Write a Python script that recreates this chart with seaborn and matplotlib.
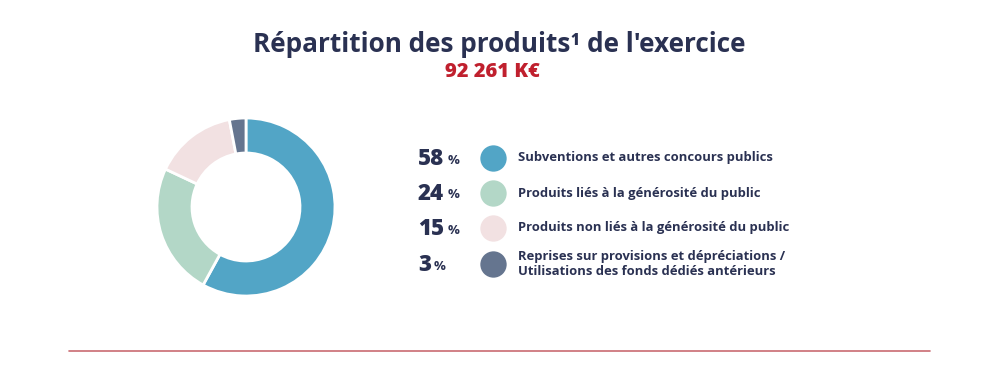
import matplotlib
matplotlib.use("Agg")
import matplotlib.pyplot as plt
import seaborn as sns

# --- données ---
labels = [
    "Subventions et autres concours publics",
    "Produits liés à la générosité du public",
    "Produits non liés à la générosité du public",
    "Reprises sur provisions et dépréciations /\nUtilisations des fonds dédiés antérieurs",
]
shares = [58, 24, 15, 3]
colors = ["#52A5C6", "#B3D7C7", "#F2E1E2", "#65758F"]

title = "Répartition des produits¹ de l'exercice"
total_label = "92 261 K€"

NAVY = "#2A3152"
RED = "#C0202E"

sns.set_theme(style="white")
plt.rcParams['font.family'] = ['Open Sans', 'DejaVu Sans']

W, H = 1000, 372
fig = plt.figure(figsize=(W / 100, H / 100), dpi=100)

# fond pour le texte, en pixels
ax_bg = fig.add_axes([0, 0, 1, 1])
ax_bg.set_xlim(0, W)
ax_bg.set_ylim(H, 0)
ax_bg.axis("off")

# --- anneau ---
cx, cy, side = 246, 207, 200
ax_pie = fig.add_axes([(cx - side / 2) / W, (H - cy - side / 2) / H, side / W, side / H])
ax_pie.pie(shares, colors=colors, startangle=90, counterclock=False, radius=0.89,
           wedgeprops=dict(width=0.35, edgecolor="white", linewidth=2))
ax_pie.set_xlim(-1, 1)
ax_pie.set_ylim(-1, 1)
ax_pie.set_aspect("equal")

# --- titres ---
ax_bg.text(499, 45, title, ha="center", va="center", fontsize=18.8,
           fontweight="bold", color=NAVY)
ax_bg.text(492, 72, total_label, ha="center", va="center", fontsize=14.5,
           fontweight="heavy", color=RED)

# --- légende ---
rows_y = [158, 193, 228, 264]
renderer = fig.canvas.get_renderer()
inv = ax_bg.transData.inverted()
for y, share, col, lab in zip(rows_y, shares, colors, labels):
    t = ax_bg.text(418, y + 1, f"{share}", ha="left", va="center", fontsize=16,
                   fontweight="heavy", color=NAVY)
    bb = t.get_window_extent(renderer)
    x_end = inv.transform((bb.x1, bb.y0))[0]
    ax_bg.text(x_end + 3, y + 2, "%", ha="left", va="center", fontsize=9.5,
               fontweight="bold", color=NAVY)
    ax_bg.scatter([493], [y], s=360, color=col, linewidths=0)
    ax_bg.text(518, y, lab, ha="left", va="center", fontsize=9.4,
               fontweight="bold", color=NAVY, linespacing=1.2)

# --- filet bas ---
ax_bg.plot([69, 930], [351, 351], color="#C96B72", linewidth=1.2)

fig.savefig("out.png", dpi=100, facecolor="white")
